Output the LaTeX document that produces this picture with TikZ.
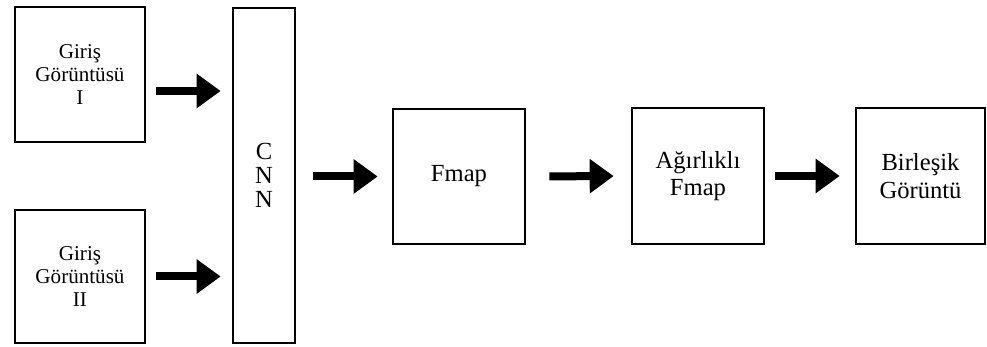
\documentclass[tikz,border=0pt]{standalone}
\usepackage{fontspec}
\setmainfont{Liberation Serif}
\usetikzlibrary{arrows.meta}

\begin{document}
\begin{tikzpicture}[
  blok/.style={shape=rectangle, draw, line width=1.5pt, align=center,
    minimum width=2.64cm, minimum height=2.7cm, inner sep=0pt},
  girdi/.style={blok, minimum width=2.6cm, font=\fontsize{12}{13}\selectfont},
  cikti/.style={blok, font=\fontsize{14}{15.5}\selectfont},
  ok/.style={line width=0.16cm, -{Triangle[length=0.48cm, width=0.66cm]}}]
\useasboundingbox (0,0) rectangle (19.74,6.94);

\path (1.60,5.45) node (G1) [girdi] {Giriş\\Görüntüsü\\I};
\path (1.60,1.41) node (G2) [girdi, minimum height=2.66cm] {Giriş\\Görüntüsü\\II};
\path (5.28,3.43) node (CNN) [blok, minimum width=1.24cm, minimum height=6.7cm,
  font=\fontsize{14}{13.5}\selectfont] {C\\N\\N};
\path (9.18,3.41) node (FM) [cikti] {Fmap};
\path (13.96,3.42) node (AF) [cikti, minimum height=2.72cm] {Ağırlıklı\\Fmap};
\path (18.41,3.42) node (BG) [cikti, minimum width=2.58cm, minimum height=2.72cm] {Birleşik\\Görüntü};

% oklar
\coordinate (a1) at ([yshift=-0.33cm]G1.east);
\draw[ok, shorten <=0.2cm, shorten >=0.22cm] (a1) -- (a1 -| CNN.west);
\draw[ok, shorten <=0.2cm, shorten >=0.22cm] (G2.east) -- (G2.east -| CNN.west);
\draw[ok, shorten <=0.34cm, shorten >=0.28cm] (CNN.east |- FM.west) -- (FM.west);
\draw[ok, shorten <=0.46cm, shorten >=0.34cm] (FM.east) -- (AF.west);
\draw[ok, shorten <=0.2cm, shorten >=0.3cm] (AF.east) -- (BG.west);

\end{tikzpicture}
\end{document}
